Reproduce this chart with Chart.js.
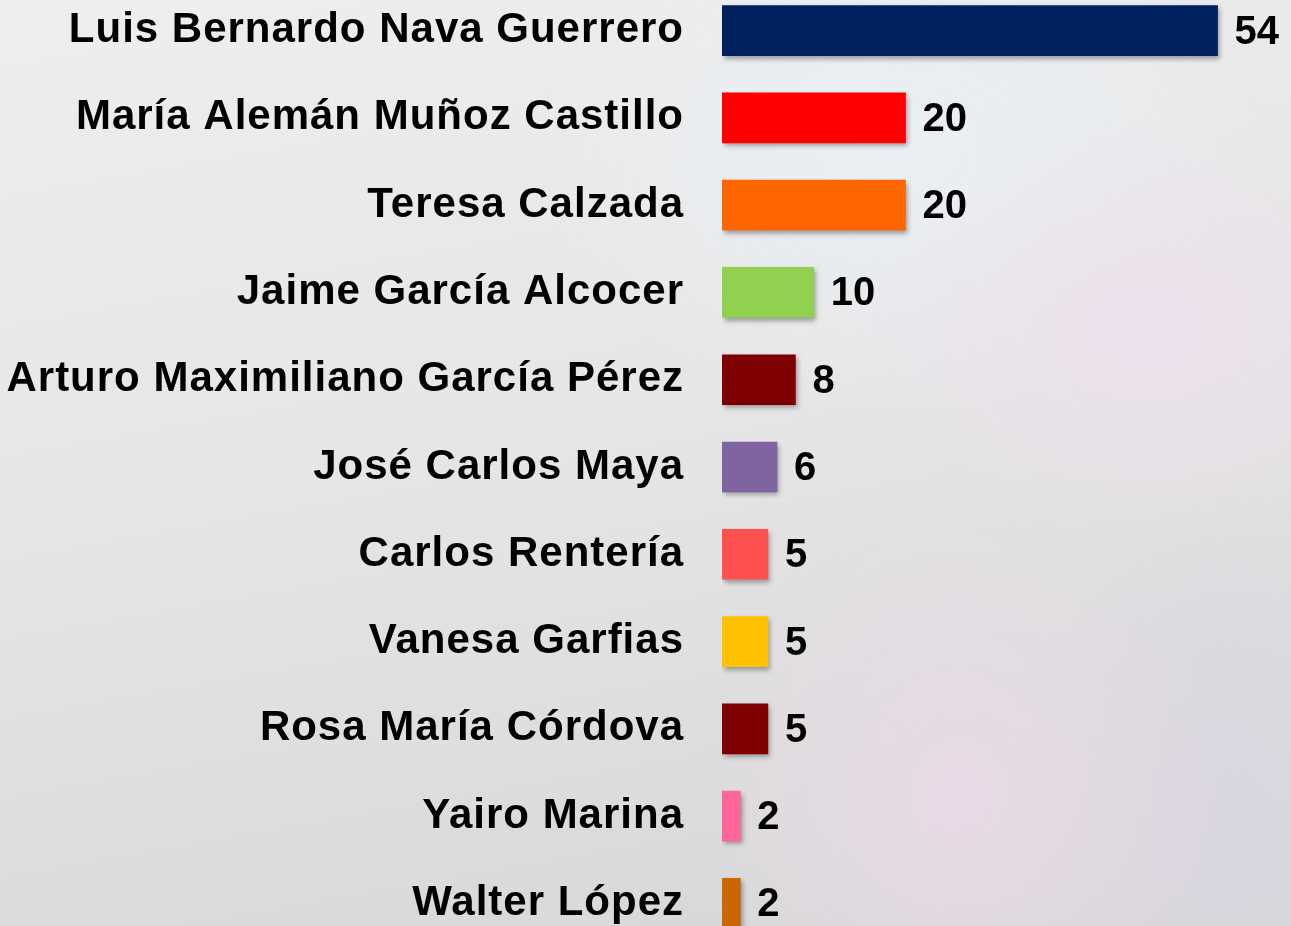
<!DOCTYPE html>
<html>
<head>
<meta charset="utf-8">
<script src="https://cdn.jsdelivr.net/npm/chart.js@4/dist/chart.umd.min.js"></script>
<style>
  html, body {
    margin: 0;
    width: 1291px;
    height: 926px;
    overflow: hidden;
  }
  body {
    background:
      radial-gradient(ellipse 420px 300px at 1150px 330px, rgba(238, 224, 238, 0.9), rgba(238, 224, 238, 0) 70%),
      radial-gradient(ellipse 380px 420px at 960px 800px, rgba(234, 218, 232, 0.9), rgba(234, 218, 232, 0) 70%),
      radial-gradient(ellipse 300px 500px at 1230px 820px, rgba(218, 214, 226, 0.9), rgba(218, 214, 226, 0) 70%),
      radial-gradient(ellipse 520px 380px at 900px 150px, rgba(234, 240, 246, 0.9), rgba(234, 240, 246, 0) 70%),
      linear-gradient(170deg, #eeeeee 0%, #e6e6e6 45%, #d6d6d6 100%);
  }
  #chart {
    position: absolute;
    left: 0;
    top: -13px;
  }
</style>
</head>
<body>
<canvas id="chart" width="1291" height="960"></canvas>
<script>
const candidates = [
  "Luis Bernardo Nava Guerrero",
  "María Alemán Muñoz Castillo",
  "Teresa Calzada",
  "Jaime García Alcocer",
  "Arturo Maximiliano García Pérez",
  "José Carlos Maya",
  "Carlos Rentería",
  "Vanesa Garfias",
  "Rosa María Córdova",
  "Yairo Marina",
  "Walter López"
];
const values = [54, 20, 20, 10, 8, 6, 5, 5, 5, 2, 2];
const barColors = [
  "#002060", "#FF0000", "#FF6600", "#92D050", "#7F0000", "#8064A2",
  "#FF5050", "#FFC000", "#7F0000", "#FF6699", "#CC6600"
];

const labelFont = { family: "'Liberation Sans', Arial, sans-serif", size: 42, weight: "bold" };

// shadow under the bars, slightly spaced names on the axis
const stylePlugin = {
  id: "style",
  beforeDraw(chart) {
    chart.ctx.letterSpacing = "1px";
  },
  beforeDatasetsDraw(chart) {
    const ctx = chart.ctx;
    ctx.save();
    ctx.letterSpacing = "0px";
    ctx.shadowColor = "rgba(0,0,0,0.35)";
    ctx.shadowBlur = 5;
    ctx.shadowOffsetX = 2;
    ctx.shadowOffsetY = 3;
  },
  afterDatasetsDraw(chart) {
    const ctx = chart.ctx;
    ctx.restore();
    ctx.save();
    ctx.letterSpacing = "0px";
    ctx.font = "bold 40px 'Liberation Sans', Arial, sans-serif";
    ctx.fillStyle = "#000";
    ctx.textBaseline = "middle";
    ctx.textAlign = "left";
    chart.getDatasetMeta(0).data.forEach((bar, i) => {
      ctx.fillText(String(values[i]), bar.x + 17, bar.y + 2);
    });
    ctx.restore();
  }
};

new Chart(document.getElementById("chart"), {
  type: "bar",
  data: {
    labels: candidates,
    datasets: [{
      data: values,
      backgroundColor: barColors,
      barThickness: 50,
      borderWidth: 0
    }]
  },
  options: {
    indexAxis: "y",
    responsive: false,
    animation: false,
    layout: { padding: 0 },
    plugins: {
      legend: { display: false },
      tooltip: { enabled: false }
    },
    scales: {
      x: {
        display: false,
        min: 0,
        max: 62
      },
      y: {
        afterFit(scale) {
          scale.width = 722;
          scale.paddingTop = 0;
          scale.paddingBottom = 0;
        },
        border: { display: false },
        grid: { display: false, drawTicks: false },
        ticks: {
          color: "#000",
          font: labelFont,
          padding: 38
        }
      }
    }
  },
  plugins: [stylePlugin]
});
</script>
</body>
</html>
